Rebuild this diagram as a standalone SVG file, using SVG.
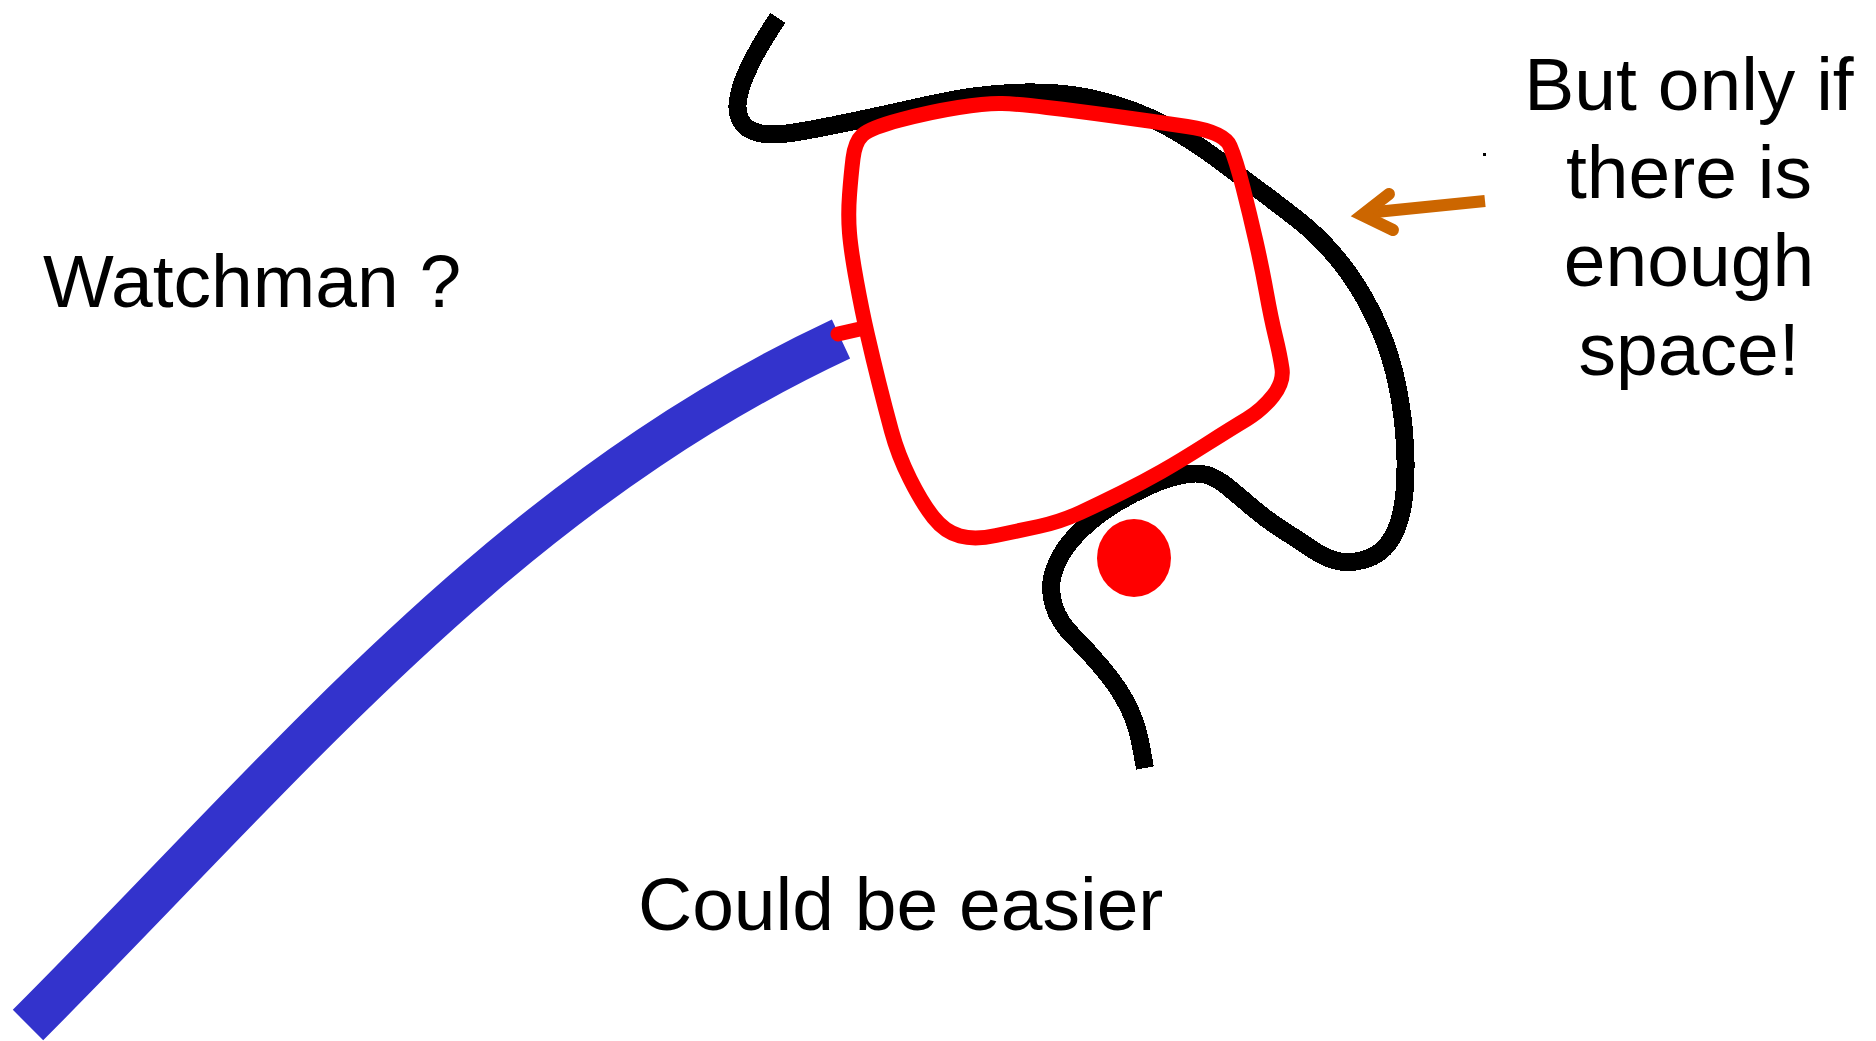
<svg xmlns="http://www.w3.org/2000/svg" width="1876" height="1041" viewBox="0 0 1876 1041">
<style>
.lbl{font-family:"Liberation Sans",Arial,sans-serif;font-size:75px;fill:#000}
.blk{fill:none;stroke:#000;stroke-width:18;stroke-linejoin:round;stroke-linecap:butt}
.red{fill:none;stroke:#FF0000;stroke-width:15;stroke-linejoin:round;stroke-linecap:round}
.blue{fill:none;stroke:#3333CC;stroke-width:43;stroke-linecap:butt}
.org{fill:none;stroke:#CC6600;stroke-width:12}
</style>
<rect width="1876" height="1041" fill="#fff"/>
<g id="blue-line">
<path class="blue" d="M28,1025 C287,766 503,497 841,339"/>
</g>
<g id="black-curve">
<path class="blk" shape-rendering="crispEdges" d="M778,18 L772,27 Q766,36 758.5,49 Q751,62 745.5,75 Q740,88 738,100 Q736,112 741,121 Q746,130 759,133 Q772,136 791,133 Q810,130 832.5,125.5 Q855,121 880,115.5 Q905,110 930,104.5 Q955,99 977.5,96 Q1000,93 1025,92.5 Q1050,92 1072.5,95 Q1095,98 1122.5,107 Q1150,116 1175,131 Q1200,146 1220,161 Q1240,176 1261.5,192 Q1283,208 1300,221.5 Q1317,235 1333.5,254 Q1350,273 1363.5,296.5 Q1377,320 1386,345 Q1395,370 1400,400 Q1405,430 1405.5,460 Q1406,490 1402,510 Q1398,530 1389,542.5 Q1380,555 1365,559.5 Q1350,564 1337.5,561 Q1325,558 1312.5,549.5 Q1300,541 1283.5,530.5 Q1267,520 1253.5,508.5 Q1240,497 1228.5,487.5 Q1217,478 1207,475 Q1197,472 1182,475 Q1167,478 1150,485.5 Q1133,493 1116.5,503 Q1100,513 1086.5,525 Q1073,537 1064.5,549.5 Q1056,562 1052.5,576 Q1049,590 1054,606 Q1059,622 1074,637 Q1089,652 1104,670 Q1119,688 1128,706 Q1137,724 1141,746 L1145,768"/>
</g>
<g id="red-loop">
<path class="red" d="M900,120 Q930,112 958.5,107.5 Q987,103 1002,103.5 Q1017,104 1047,107.5 Q1077,111 1113.5,116 Q1150,121 1187,126.5 Q1224,132 1230,146 Q1236,160 1243,187.5 Q1250,215 1256,241.5 Q1262,268 1266.5,293 Q1271,318 1275.5,336.5 Q1280,355 1282,368.5 Q1284,382 1273,396 Q1262,410 1247,419 Q1232,428 1206,444.5 Q1180,461 1161.5,471.5 Q1143,482 1122,492.5 Q1101,503 1080.5,512.5 Q1060,522 1038.5,526.5 Q1017,531 996,535.5 Q975,540 960,536 Q945,532 933.5,517.5 Q922,503 910,479 Q898,455 891.5,431 Q885,407 879,383 Q873,359 867.5,335 Q862,311 856.5,281 Q851,251 849.5,233 Q848,215 849.5,195 Q851,175 853,158.5 Q855,142 862.5,135 Q870,128 900,120 Z"/>
<line class="red" x1="838" y1="334" x2="860" y2="329"/>
</g>
<g id="red-dot">
<ellipse cx="1134" cy="558" rx="37" ry="39" fill="#FF0000"/>
</g>
<g id="arrow">
<line class="org" x1="1366" y1="213" x2="1485" y2="201" stroke-linecap="butt"/>
<polyline class="org" points="1389,194 1362,215 1393,230" stroke-linecap="round" stroke-linejoin="miter" stroke-width="13"/>
<rect x="1483" y="153" width="3" height="3" fill="#000"/>
</g>
<g id="labels">
<text class="lbl" x="43" y="307">Watchman ?</text>
<text class="lbl" x="638" y="930">Could be easier</text>
<text class="lbl" text-anchor="middle" x="1689" y="110">But only if</text>
<text class="lbl" text-anchor="middle" x="1689" y="198">there is</text>
<text class="lbl" text-anchor="middle" x="1689" y="286">enough</text>
<text class="lbl" text-anchor="middle" x="1689" y="375">space!</text>
</g>
</svg>
